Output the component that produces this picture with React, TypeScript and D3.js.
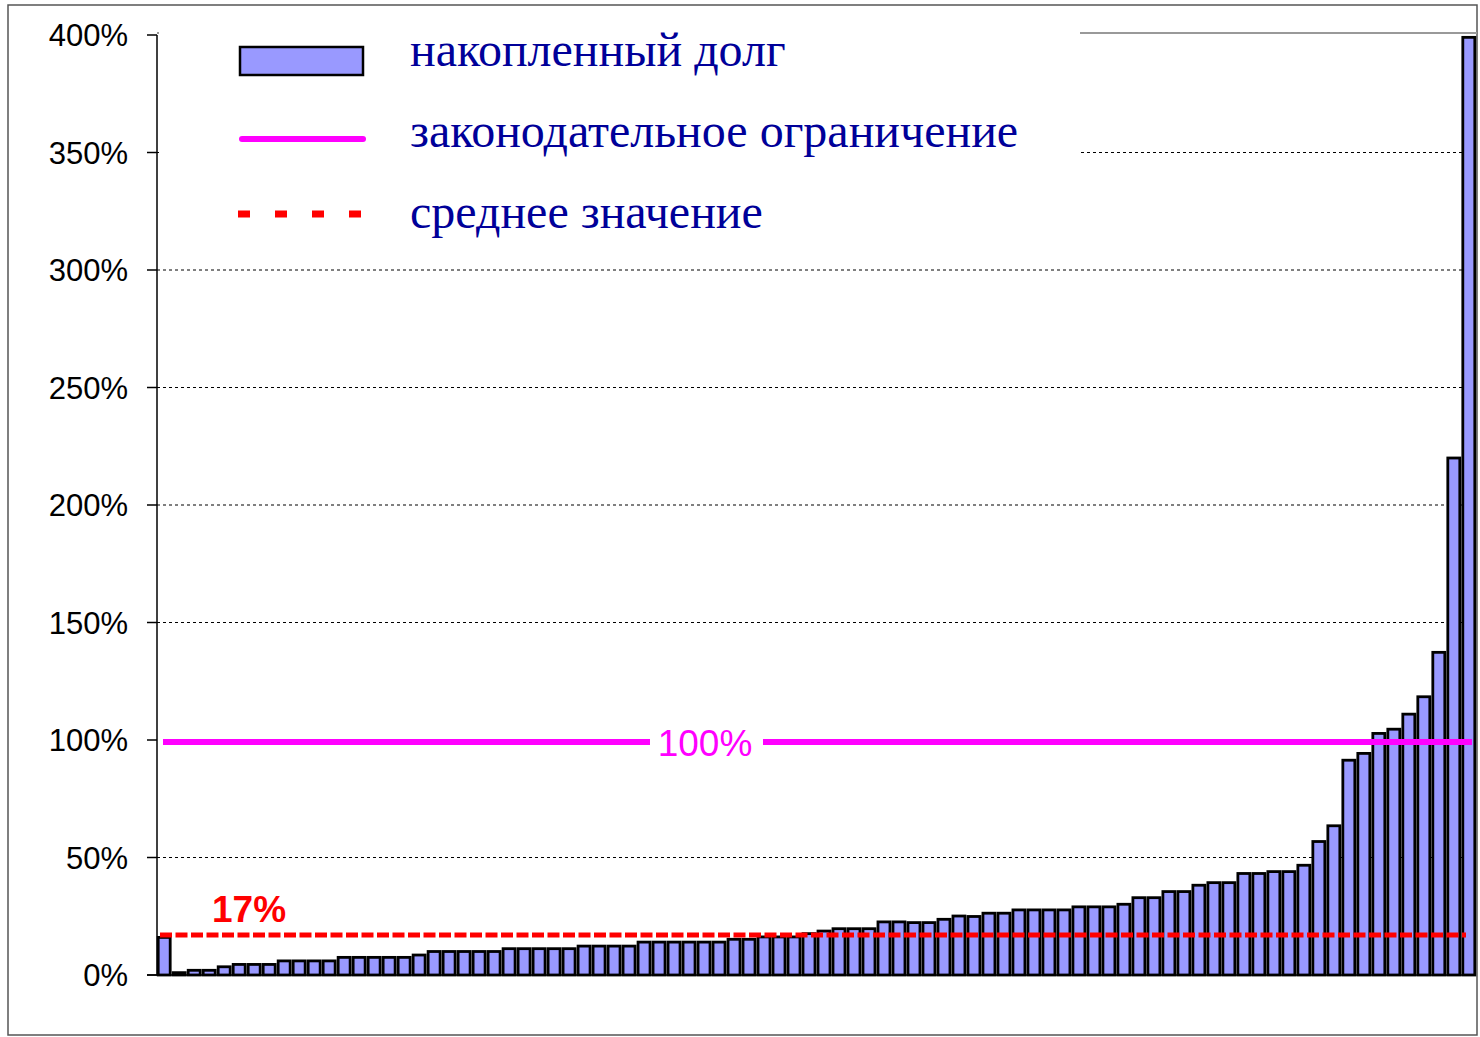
import React from 'react'
import * as d3 from 'd3'

// накопленный долг по регионам, % (отсортировано)
const debtValues: number[] = [
  16, 1, 2, 2, 3.5, 4.5, 4.5, 4.5, 6, 6,
  6, 6, 7.5, 7.5, 7.5, 7.5, 7.5, 8.5, 10, 10,
  10, 10, 10, 11.2, 11.2, 11.2, 11.2, 11.2, 12.3, 12.3,
  12.3, 12.3, 14, 14, 14, 14, 14, 14, 15.2, 15.2,
  16.2, 16.2, 16.2, 17.6, 18.7, 19.7, 19.7, 19.7, 22.6, 22.6,
  22.3, 22.3, 23.7, 25.1, 24.9, 26.3, 26.3, 27.7, 27.7, 27.7,
  27.7, 29, 29, 29, 30.1, 32.9, 32.9, 35.5, 35.5, 38.2,
  39.3, 39.3, 43.2, 43.2, 44, 44, 46.7, 56.8, 63.5, 91.4,
  94.3, 102.8, 104.6, 111, 118.4, 137.3, 220, 399,
]
const regionIds: number[] = debtValues.map((_, i) => i)

const yTicks: number[] = [0, 50, 100, 150, 200, 250, 300, 350, 400]
const gridTicks: number[] = [50, 150, 200, 250, 300, 350]

const LIMIT = 100
const MEAN = 17

const legendLabels: string[] = [
  'накопленный долг',
  'законодательное ограничение',
  'среднее значение',
]

const BAR_FILL = '#9999ff'
const PINK = '#ff00ff'
const RED = '#ff0000'
const NAVY = '#000099'

const App: React.FC = () => {
  const width = 1480
  const height = 1037
  const x0 = 157
  const x1 = 1476

  const x = d3.scaleBand<number>().domain(regionIds).range([x0, x1]).paddingInner(0.2).paddingOuter(0.08)
  const y = d3.scaleLinear().domain([0, 400]).range([975, 35])

  const labelFont = 'Arial, "Liberation Sans", Helvetica, sans-serif'
  const serif = '"Times New Roman", "Liberation Serif", serif'

  return (
    <svg width={width} height={height} style={{ position: 'absolute', left: 0, top: 0 }}>
      <rect x={0} y={0} width={width} height={height} fill="#fff" />
      <rect x={8} y={5} width={1469} height={1030} fill="none" stroke="#555" strokeWidth={1.5} />

      {/* сетка */}
      {gridTicks.map(t => (
        <line key={t} x1={x0} x2={x1} y1={y(t)} y2={y(t)} stroke="#000" strokeWidth={1} strokeDasharray="3,3" />
      ))}
      <line x1={x0} x2={1477} y1={y(400) - 2} y2={y(400) - 2} stroke="#999" strokeWidth={2} />

      {/* столбцы */}
      {debtValues.map((v, i) => (
        <rect
          key={i}
          x={x(i)}
          y={y(v)}
          width={x.bandwidth()}
          height={y(0) - y(v)}
          fill={BAR_FILL}
          stroke="#000"
          strokeWidth={2.8}
        />
      ))}

      {/* законодательное ограничение */}
      <line x1={163} x2={1472} y1={y(LIMIT) + 2} y2={y(LIMIT) + 2} stroke={PINK} strokeWidth={6} />
      <rect x={650} y={y(LIMIT) - 16} width={113} height={36} fill="#fff" />
      <text x={705} y={y(LIMIT) + 3} dy="0.36em" textAnchor="middle" fontFamily={labelFont} fontSize={37} fill={PINK}>
        {LIMIT}%
      </text>

      {/* среднее значение */}
      <line x1={160} x2={1466} y1={y(MEAN)} y2={y(MEAN)} stroke={RED} strokeWidth={5} strokeDasharray="12,3.5" />
      <text x={212} y={922} fontFamily={labelFont} fontSize={37} fontWeight="bold" fill={RED}>
        {MEAN}%
      </text>

      {/* легенда */}
      <rect x={159} y={10} width={921} height={240} fill="#fff" />
      <rect x={240} y={47} width={123} height={28} fill={BAR_FILL} stroke="#000" strokeWidth={2.5} />
      <line x1={242} x2={363} y1={139} y2={139} stroke={PINK} strokeWidth={6} strokeLinecap="round" />
      <line x1={238} x2={362} y1={214} y2={214} stroke={RED} strokeWidth={7} strokeDasharray="12,25" />
      {legendLabels.map((l, i) => (
        <text key={l} x={410} y={66 + i * 81} fontFamily={serif} fontSize={48} fill={NAVY}>
          {l}
        </text>
      ))}

      {/* ось Y */}
      <line x1={x0} x2={x0} y1={y(400)} y2={y(0)} stroke="#000" strokeWidth={1.5} />
      <line x1={147} x2={x1} y1={y(0)} y2={y(0)} stroke="#000" strokeWidth={1.5} />
      {yTicks.map(t => (
        <g key={t}>
          <line x1={147} x2={x0} y1={y(t)} y2={y(t)} stroke="#000" strokeWidth={1.5} />
          <text x={128} y={y(t)} dy="0.36em" textAnchor="end" fontFamily={labelFont} fontSize={31} fill="#000">
            {t}%
          </text>
        </g>
      ))}
    </svg>
  )
}

export default App
